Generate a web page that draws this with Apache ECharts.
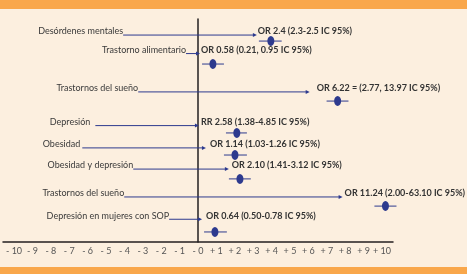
<!DOCTYPE html>
<html><head><meta charset="utf-8">
<script src="https://cdn.jsdelivr.net/npm/echarts@6/dist/echarts.min.js"></script>
<style>html,body{margin:0;padding:0;background:#fcefdf;}#c{width:467px;height:274px;}</style>
</head><body><div id="c"></div>
<script>
// Row labels (left side)
var categories = ["Desórdenes mentales", "Trastorno alimentario", "Trastornos del sueño", "Depresión", "Obesidad", "Obesidad y depresión", "Trastornos del sueño", "Depresión en mujeres con SOP"];
// Result texts
var resultLabels = ["OR 2.4 (2.3-2.5 IC 95%)", "OR 0.58 (0.21, 0.95 IC 95%)", "OR 6.22 = (2.77, 13.97 IC 95%)", "RR 2.58 (1.38-4.85 IC 95%)", "OR 1.14 (1.03-1.26 IC 95%)", "OR 2.10 (1.41-3.12 IC 95%)", "OR 11.24 (2.00-63.10 IC 95%)", "OR 0.64 (0.50-0.78 IC 95%)"];
// Positions, in axis units
var labelEnd   = [-4.07, -0.65, -3.25, -5.85, -6.40, -3.52, -4.01, -1.57];
var arrowStart = [-4.07, -0.65, -3.25, -5.58, -6.29, -3.52, -4.01, -1.57];
var arrowEnd   = [3.20, 0.11, 6.07, 0.05, 0.43, 1.68, 7.86, 0.22];
var textStart  = [3.25, 0.16, 6.45, 0.16, 0.65, 1.84, 7.97, 0.43];
var rowY       = [0.72, 1.55, 3.27, 4.78, 5.78, 6.73, 7.98, 8.98];
var dotX       = [3.96, 0.81, 7.59, 2.11, 2.01, 2.28, 10.19, 0.92];
var dotY       = [0.99, 2.02, 3.68, 5.11, 6.10, 7.17, 8.39, 9.55];
var ciLow      = [3.31, 0.22, 6.99, 1.52, 1.41, 1.68, 9.59, 0.33];
var ciHigh     = [4.55, 1.41, 8.18, 2.66, 2.66, 2.87, 10.79, 1.57];
// Tick labels
var tickValues = [-10,-9,-8,-7,-6,-5,-4,-3,-2,-1,0,1,2,3,4,5,6,7,8,9,10];
var tickLabels = ["- 10","- 9","- 8","- 7","- 6","- 5","- 4","- 3","- 2","- 1","- 0","+ 1","+ 2","+ 3","+ 4","+ 5","+ 6","+ 7","+ 8","+ 9","+ 10"];

var BLUE = '#2d3a8e';
var data = categories.map(function(c, i){
  return [labelEnd[i], arrowStart[i], arrowEnd[i], textStart[i], rowY[i], dotX[i], dotY[i], ciLow[i], ciHigh[i], i];
});

var chart = echarts.init(document.getElementById('c'), null, {renderer:'canvas'});
chart.setOption({
  backgroundColor: '#fcefdf',
  animation: false,
  graphic: [
    {type:'rect', left:0, top:0, shape:{width:467, height:9}, style:{fill:'#f9a74b'}},
    {type:'rect', left:0, top:267, shape:{width:467, height:7}, style:{fill:'#f9a74b'}}
  ],
  grid: {left:2, right:74, top:19, bottom:32},
  xAxis: {
    type:'value', min:-10.6, max:10.6, interval:0.2,
    axisLine:{show:true, onZero:false, lineStyle:{color:'#231f20', width:1.5}},
    axisTick:{show:false}, splitLine:{show:false},
    axisLabel:{
      margin:5, color:'#555', fontSize:9, fontFamily:'Lato',
      formatter:function(v){
        var r = Math.round(v);
        if (Math.abs(v - r) > 1e-6) return '';
        var k = tickValues.indexOf(r);
        return k >= 0 ? tickLabels[k] : '';
      }
    }
  },
  yAxis: {
    type:'value', min:0, max:10, inverse:true,
    axisLine:{show:true, onZero:true, lineStyle:{color:'#231f20', width:1.5}},
    axisTick:{show:false}, axisLabel:{show:false}, splitLine:{show:false}
  },
  series: [{
    type:'custom',
    data: data,
    renderItem: function(params, api){
      var i = api.value(9);
      var y = api.coord([0, api.value(4)])[1];
      var lblEnd = api.coord([api.value(0), 0])[0];
      var aS = api.coord([api.value(1), 0])[0];
      var aE = api.coord([api.value(2), 0])[0];
      var tS = api.coord([api.value(3), 0])[0];
      var d = api.coord([api.value(5), api.value(6)]);
      var cl = api.coord([api.value(7), 0])[0];
      var ch = api.coord([api.value(8), 0])[0];
      return {
        type:'group',
        children:[
          {type:'text', style:{text:categories[i], x:lblEnd, y:y-3.5, align:'right', verticalAlign:'middle', fill:'#3a3a3a', font:'9px Lato'}},
          {type:'line', shape:{x1:aS, y1:y, x2:aE-3, y2:y}, style:{stroke:BLUE, lineWidth:1}},
          {type:'polygon', shape:{points:[[aE,y],[aE-4,y-2],[aE-4,y+2]]}, style:{fill:BLUE}},
          {type:'text', style:{text:resultLabels[i], x:tS, y:y-3.5, align:'left', verticalAlign:'middle', fill:'#333', font:'bold 9px Lato'}},
          {type:'line', shape:{x1:cl, y1:d[1], x2:ch, y2:d[1]}, style:{stroke:BLUE, lineWidth:1}},
          {type:'ellipse', shape:{cx:d[0], cy:d[1], rx:3.5, ry:5}, style:{fill:BLUE}}
        ]
      };
    }
  }]
});
</script></body></html>
